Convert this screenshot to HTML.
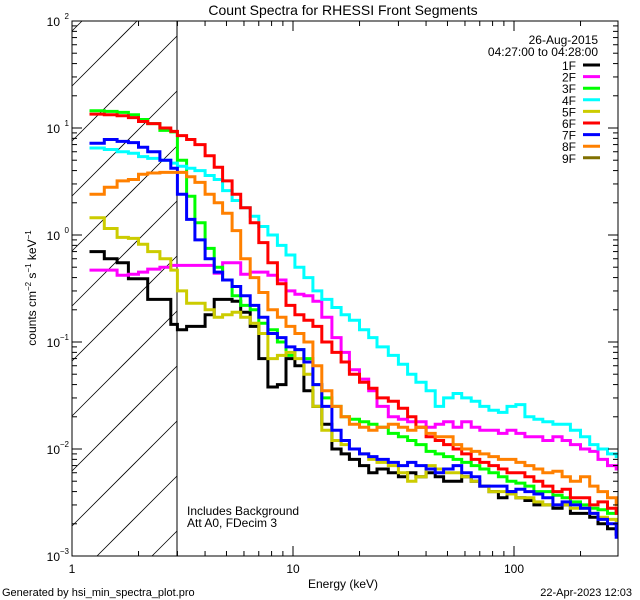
<!DOCTYPE html>
<html><head><meta charset="utf-8"><style>
html,body{margin:0;padding:0;background:#fff;width:640px;height:600px;overflow:hidden;}
svg{display:block;font-family:"Liberation Sans","DejaVu Sans",sans-serif;}
</style></head><body>
<svg id="c" width="640" height="600" viewBox="0 0 640 600">
<defs><clipPath id="pc"><rect x="72" y="21" width="546" height="535"/></clipPath></defs>
<rect width="640" height="600" fill="#fff"/>
<text x="343" y="15" font-size="14" text-anchor="middle">Count Spectra for RHESSI Front Segments</text>
<g id="hatch"></g>
<line x1="177" y1="21" x2="177" y2="556" stroke="#000" stroke-width="1"/>
<g id="series" clip-path="url(#pc)"></g>
<rect x="72" y="21" width="546" height="535" fill="none" stroke="#000" stroke-width="1"/>
<g id="axes"></g>
<text x="343" y="588" font-size="12" text-anchor="middle">Energy (keV)</text>
<text transform="translate(36,288) rotate(-90)" font-size="12" text-anchor="middle">counts cm<tspan font-size="8" dy="-5">−2</tspan><tspan dy="5"> s</tspan><tspan font-size="8" dy="-5">−1</tspan><tspan dy="5"> keV</tspan><tspan font-size="8" dy="-5">−1</tspan></text>
<text x="187" y="515" font-size="12">Includes Background</text>
<text x="187" y="527" font-size="12">Att A0, FDecim 3</text>
<text x="598" y="44" font-size="12" text-anchor="end">26-Aug-2015</text>
<text x="598" y="56" font-size="12" text-anchor="end">04:27:00 to 04:28:00</text>
<g id="legend"></g>
<text x="2" y="596" font-size="11">Generated by hsi_min_spectra_plot.pro</text>
<text x="632" y="596" font-size="11" text-anchor="end">22-Apr-2023 12:03</text>
</svg>
<script>
const energies=[1.2,1.4,1.6,1.8,2.0,2.2,2.5,2.8,3.0,3.3,3.6,4.0,4.4,4.8,5.3,5.8,6.4,7.0,7.7,8.5,9.3,10.2,11.2,12.3,13.5,15,16.5,18,20,22,24,27,30,33,36,40,44,48,53,58,64,70,77,85,93,102,112,123,135,150,165,180,200,220,240,265,290];
const seg1F=[0.7,0.6,0.55,0.39,0.39,0.25,0.25,0.146,0.13,0.14,0.14,0.18,0.25,0.25,0.24,0.19,0.14,0.07,0.038,0.04,0.07,0.06,0.035,0.025,0.017,0.01,0.009,0.008,0.007,0.006,0.0065,0.006,0.0055,0.006,0.0055,0.006,0.0055,0.005,0.005,0.0055,0.005,0.0045,0.004,0.0035,0.004,0.0035,0.0033,0.003,0.003,0.0028,0.003,0.0025,0.0025,0.0023,0.002,0.0018,0.0016];
const seg2F=[0.47,0.47,0.42,0.43,0.45,0.48,0.5,0.52,0.52,0.52,0.52,0.52,0.44,0.55,0.55,0.43,0.45,0.45,0.42,0.38,0.3,0.28,0.27,0.24,0.17,0.11,0.08,0.055,0.045,0.035,0.025,0.02,0.019,0.018,0.018,0.016,0.017,0.018,0.016,0.018,0.016,0.015,0.015,0.014,0.015,0.014,0.013,0.013,0.012,0.013,0.012,0.011,0.01,0.0095,0.008,0.007,0.0065];
const seg3F=[14.5,14.3,14,13.3,12,11,9.5,9.2,5,2.3,1.3,0.75,0.5,0.38,0.27,0.22,0.2,0.15,0.13,0.1,0.075,0.085,0.07,0.04,0.03,0.025,0.02,0.019,0.018,0.017,0.016,0.014,0.013,0.012,0.011,0.0095,0.009,0.0085,0.008,0.0075,0.007,0.0065,0.006,0.0055,0.005,0.0048,0.0045,0.004,0.004,0.0037,0.0035,0.0032,0.003,0.0028,0.0027,0.0025,0.0026];
const seg4F=[6.5,6.3,6,5.8,5.4,5.2,5,4.7,4.4,4.2,4,3.6,3.3,2.6,2.1,1.8,1.5,1.2,1.0,0.8,0.65,0.5,0.4,0.3,0.25,0.21,0.18,0.16,0.13,0.11,0.09,0.075,0.062,0.05,0.042,0.035,0.025,0.03,0.033,0.03,0.028,0.025,0.023,0.022,0.025,0.026,0.02,0.019,0.018,0.017,0.017,0.015,0.013,0.011,0.01,0.009,0.0085];
const seg5F=[1.45,1.15,0.95,0.93,0.82,0.7,0.6,0.47,0.3,0.23,0.23,0.2,0.17,0.18,0.19,0.17,0.15,0.12,0.07,0.075,0.08,0.07,0.05,0.025,0.015,0.012,0.011,0.01,0.009,0.008,0.0075,0.007,0.006,0.005,0.0055,0.007,0.0065,0.006,0.006,0.0055,0.005,0.0045,0.004,0.004,0.0038,0.0035,0.0035,0.0032,0.003,0.003,0.003,0.0028,0.0028,0.0025,0.0023,0.0022,0.002];
const seg6F=[13.5,13.3,13,12.5,11.5,11,10,9.3,8.5,7.8,7,5.5,4.3,3.2,2.4,1.8,1.3,0.85,0.55,0.35,0.22,0.18,0.16,0.14,0.1,0.08,0.065,0.05,0.042,0.037,0.03,0.028,0.024,0.02,0.016,0.013,0.012,0.011,0.01,0.009,0.008,0.0075,0.007,0.0065,0.006,0.006,0.0055,0.005,0.0045,0.004,0.0042,0.0035,0.0035,0.003,0.0032,0.0028,0.0025];
const seg7F=[7.2,7.8,7.5,7.3,6.6,6,5,4.2,2.4,1.4,0.9,0.6,0.45,0.38,0.33,0.27,0.22,0.17,0.12,0.11,0.09,0.085,0.065,0.04,0.025,0.015,0.012,0.01,0.009,0.0085,0.008,0.0075,0.007,0.0075,0.007,0.0065,0.006,0.0065,0.007,0.006,0.0055,0.0045,0.0045,0.0045,0.004,0.0042,0.004,0.0038,0.0035,0.003,0.0032,0.003,0.0028,0.0025,0.0022,0.002,0.0015];
const seg8F=[2.4,2.8,3.2,3.3,3.7,3.8,3.85,3.85,3.85,3.5,3.1,2.4,2,1.6,1.1,0.6,0.4,0.29,0.2,0.17,0.14,0.12,0.1,0.06,0.035,0.025,0.02,0.017,0.016,0.015,0.016,0.017,0.016,0.015,0.016,0.014,0.013,0.013,0.011,0.01,0.0095,0.009,0.0085,0.008,0.008,0.0075,0.007,0.0065,0.006,0.0062,0.0055,0.005,0.0055,0.0045,0.004,0.0035,0.003];
const legendLabels=["1F","2F","3F","4F","5F","6F","7F","8F","9F"];
const legendColors=["#000000","#ff00ff","#00ff00","#00ffff","#cccc00","#ff0000","#0000ff","#ff8000","#807000"];
const yTickExps=[-3,-2,-1,0,1,2];
const xTickLabels=["1","10","100"];

const NS="http://www.w3.org/2000/svg";
const X0=72,X1=618,Y0=21,Y1=556,XH=177;
function xs(e){return X0+221*Math.log10(e);}
function ys(v){return Y0+107*(2-Math.log10(v));}
function mk(t,a,p){const e=document.createElementNS(NS,t);for(const k in a)e.setAttribute(k,a[k]);(p||document.getElementById('c')).appendChild(e);return e;}

const hg=document.getElementById('hatch');
for(let k=-2;k<12;k++){
  const yb=86+55*k; // y at x=X0; line y = yb-(x-X0)
  const xa=Math.max(X0, X0+yb-Y1);
  const xb=Math.min(XH, X0+yb-Y0);
  if(xb<=xa) continue;
  const l=mk('line',{x1:xa,y1:yb-(xa-X0),x2:xb,y2:yb-(xb-X0),stroke:'#000','stroke-width':0.8},hg);
  
  
}

const sg=document.getElementById('series');
const allSeries=[seg1F,seg2F,seg3F,seg4F,seg5F,seg6F,seg7F,seg8F];
allSeries.forEach((vals,si)=>{
  let d='';
  for(let i=0;i<energies.length;i++){
    const xa=xs(energies[i]);const xb=i<energies.length-1?xs(energies[i+1]):X1;const y=ys(vals[i]);
    d+=(i===0?'M':'L')+xa.toFixed(1)+','+y.toFixed(1)+'L'+xb.toFixed(1)+','+y.toFixed(1);
  }
  const p=mk('path',{d:d,fill:'none',stroke:legendColors[si],'stroke-width':3,'stroke-linejoin':'miter'},sg);
  
  
});

const ag=document.getElementById('axes');
yTickExps.forEach(ex=>{
  const y=ys(Math.pow(10,ex));
  const t1=mk('line',{x1:X0,y1:y,x2:X0+10,y2:y,stroke:'#000'},ag);
  
  
  const t2=mk('line',{x1:X1-10,y1:y,x2:X1,y2:y,stroke:'#000'},ag);
  
  
  const tx=mk('text',{x:X0-12,y:y+5,'font-size':12,'text-anchor':'end'},ag);
  
  
  tx.textContent='10';
  const sp=mk('text',{x:X0-3,y:y-2,'font-size':8,'text-anchor':'end'},ag);
  
  
  sp.textContent=String(ex).replace('-','−');
  if(ex<2){for(let m=2;m<10;m++){const ym=ys(m*Math.pow(10,ex));
    const a=mk('line',{x1:X0,y1:ym,x2:X0+5,y2:ym,stroke:'#000'},ag);
    
    
    const b=mk('line',{x1:X1-5,y1:ym,x2:X1,y2:ym,stroke:'#000'},ag);
    
    }}
});
xTickLabels.forEach((lab,i)=>{
  const dec=Math.pow(10,i);const x=xs(dec);
  const a=mk('line',{x1:x,y1:Y1,x2:x,y2:Y1-10,stroke:'#000'},ag);
  
  
  const b=mk('line',{x1:x,y1:Y0,x2:x,y2:Y0+10,stroke:'#000'},ag);
  
  
  const t=mk('text',{x:x,y:Y1+17,'font-size':12,'text-anchor':'middle'},ag);
  
  
  t.textContent=lab;
  for(let m=2;m<10;m++){const xm=xs(m*dec);if(xm>X1)break;
    const c=mk('line',{x1:xm,y1:Y1,x2:xm,y2:Y1-5,stroke:'#000'},ag);
    
    
    const d=mk('line',{x1:xm,y1:Y0,x2:xm,y2:Y0+5,stroke:'#000'},ag);
    
    }
});

const lg=document.getElementById('legend');
legendLabels.forEach((lab,i)=>{
  const y=65+11.6*i;
  const t=mk('text',{x:576,y:y+5,'font-size':12,'text-anchor':'end'},lg);
  
  
  t.textContent=lab;
  const l=mk('line',{x1:583,y1:y,x2:600,y2:y,stroke:legendColors[i],'stroke-width':3},lg);
  
  
});
</script>
</body></html>
